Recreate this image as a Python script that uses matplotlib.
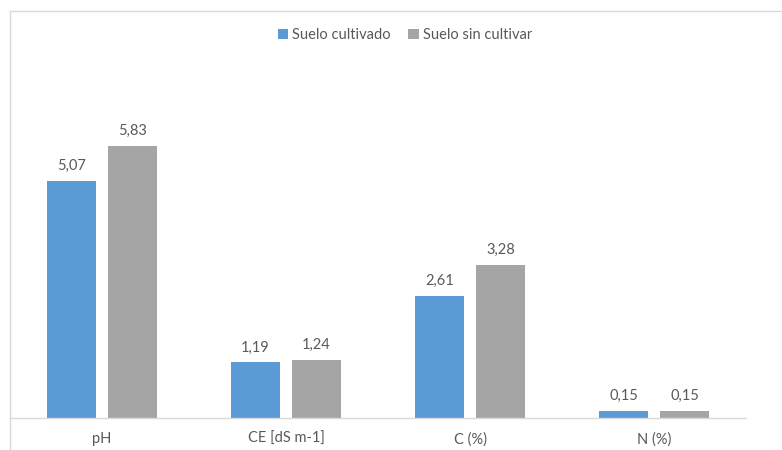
import numpy as np
import matplotlib
matplotlib.use('Agg')
from matplotlib import pyplot as plt
from matplotlib.lines import Line2D

categories = ['pH', 'CE [dS m-1]', 'C (%)', 'N (%)']
cultivado = [5.07, 1.19, 2.61, 0.15]
sin_cultivar = [5.83, 1.24, 3.28, 0.15]
series_names = ['Suelo cultivado', 'Suelo sin cultivar']

plt.rcParams['font.family'] = ['Lato', 'DejaVu Sans']
txt = '#595959'

fig = plt.figure(figsize=(7.82, 4.5), dpi=100)
ax = fig.add_axes([10/782, 32/450, 736/782, 327/450])

x = np.arange(len(categories))
w = 0.266
off = 0.166
b1 = ax.bar(x - off, cultivado, w, color='#5b9bd5', label=series_names[0])
b2 = ax.bar(x + off, sin_cultivar, w, color='#a5a5a5', label=series_names[1])

for bars in (b1, b2):
    for r in bars:
        v = r.get_height()
        ax.text(r.get_x() + r.get_width()/2, v + 0.17, f'{v:.2f}'.replace('.', ','),
                ha='center', va='bottom', fontsize=10.5, color=txt)

ax.set_xlim(-0.5, len(categories) - 0.5)
ax.set_ylim(0, 7)
ax.set_xticks(x)
ax.set_xticklabels(categories, fontsize=10.5, color=txt)
ax.tick_params(axis='x', length=0, pad=10)
ax.set_yticks([])
for s in ['top', 'right', 'left']:
    ax.spines[s].set_visible(False)
ax.spines['bottom'].set_color('#d9d9d9')
ax.spines['bottom'].set_linewidth(1)

fig.legend(handles=[b1, b2], loc='center', bbox_to_anchor=(405/782, 1 - 35/450),
           ncol=2, frameon=False, fontsize=10.5, handlelength=0.7, handleheight=0.7,
           handletextpad=0.3, columnspacing=1.2, labelcolor=txt)

# chart area border
fig.add_artist(Line2D([10/782, 10/782], [0, 1 - 11/450], color='#d9d9d9', lw=1))
fig.add_artist(Line2D([10/782, 1], [1 - 11/450, 1 - 11/450], color='#d9d9d9', lw=1))

fig.savefig('out.png', dpi=100)
